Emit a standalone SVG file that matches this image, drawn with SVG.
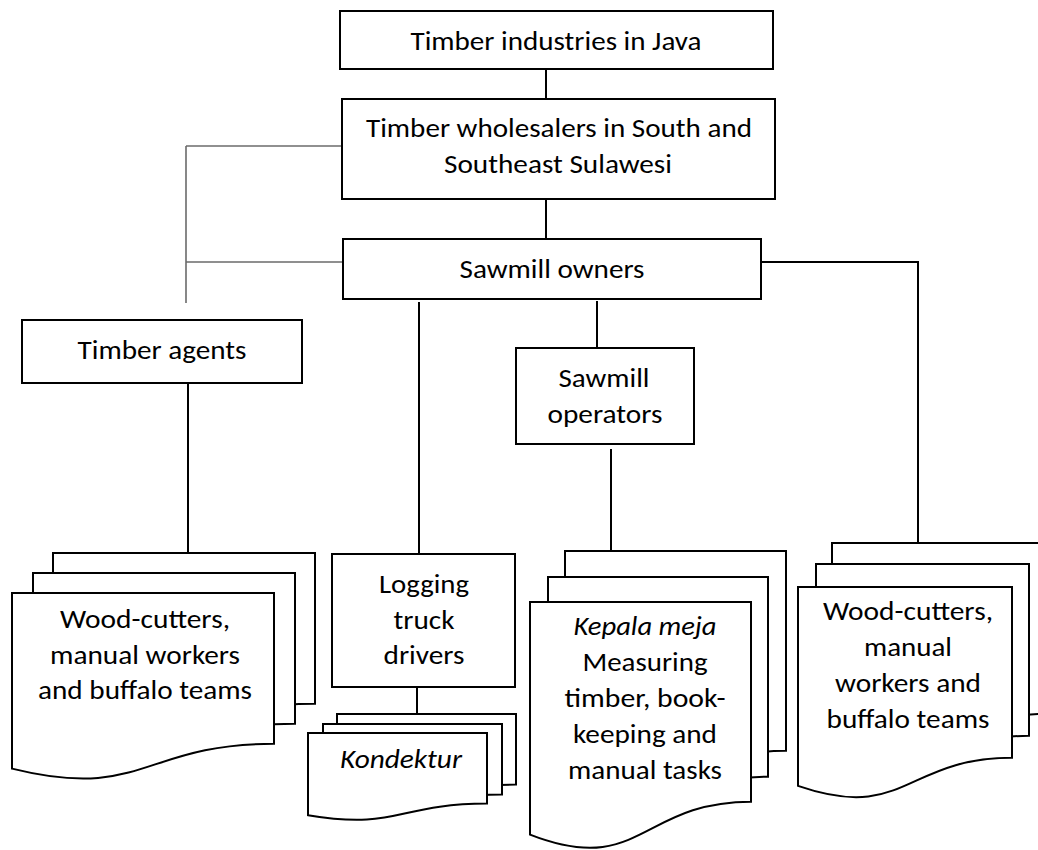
<svg xmlns="http://www.w3.org/2000/svg" width="1038" height="850" viewBox="0 0 1038 850">
  <style>
    .box { fill: #fff; stroke: #000; stroke-width: 2; }
    .doc { fill: #fff; stroke: #000; stroke-width: 2; stroke-linejoin: miter; }
    .wire { fill: none; stroke: #000; stroke-width: 2; }
    .hair { fill: none; stroke: #222; stroke-width: 1.2; }
    .grey { fill: none; stroke: #6a6a6a; stroke-width: 1.6; }
    text { font-family: Carlito, Calibri, Lato, "Open Sans", sans-serif; font-size: 26px; fill: #000; text-anchor: middle; }
    .it { font-style: italic; }
  </style>

  <rect width="1038" height="850" fill="#fff"/>

  <!-- connectors -->
  <g id="connectors">
    <line class="wire" x1="546" y1="69" x2="546" y2="99"/>
    <line class="wire" x1="546" y1="199" x2="546" y2="239"/>
    <polyline class="hair" points="343,146 186,146"/>
    <polyline class="grey" points="186,146 186,303"/>
    <polyline class="grey" points="186,262 343,262"/>
    <line class="wire" x1="188" y1="365" x2="188" y2="553"/>
    <line class="wire" x1="419" y1="302" x2="419" y2="554"/>
    <line class="wire" x1="597" y1="301" x2="597" y2="348"/>
    <line class="wire" x1="611" y1="449" x2="611" y2="553"/>
    <polyline class="wire" points="761,262 918,262 918,543"/>
    <line class="wire" x1="417" y1="687" x2="417" y2="714"/>
  </g>

  <g id="timber-industries-java">
    <rect class="box" x="340" y="11" width="433" height="58"/>
    <text x="556" y="50" textLength="291" lengthAdjust="spacingAndGlyphs">Timber industries in Java</text>
  </g>

  <g id="timber-wholesalers">
    <rect class="box" x="342" y="99" width="433" height="100"/>
    <text x="559" y="137" textLength="386" lengthAdjust="spacingAndGlyphs">Timber wholesalers in South and</text>
    <text x="558" y="173" textLength="228" lengthAdjust="spacingAndGlyphs">Southeast Sulawesi</text>
  </g>

  <g id="sawmill-owners">
    <rect class="box" x="343" y="239" width="418" height="60"/>
    <text x="552" y="278" textLength="185" lengthAdjust="spacingAndGlyphs">Sawmill owners</text>
  </g>

  <g id="timber-agents">
    <rect class="box" x="22" y="320" width="280" height="63"/>
    <text x="162" y="359" textLength="169" lengthAdjust="spacingAndGlyphs">Timber agents</text>
  </g>

  <g id="sawmill-operators">
    <rect class="box" x="516" y="348" width="178" height="96"/>
    <text x="604" y="387" textLength="91" lengthAdjust="spacingAndGlyphs">Sawmill</text>
    <text x="605" y="423" textLength="115" lengthAdjust="spacingAndGlyphs">operators</text>
  </g>

  <g id="logging-truck-drivers">
    <rect class="box" x="332" y="554" width="183" height="133"/>
    <text x="424" y="593" textLength="90" lengthAdjust="spacingAndGlyphs">Logging</text>
    <text x="424" y="629" textLength="61" lengthAdjust="spacingAndGlyphs">truck</text>
    <text x="424" y="664" textLength="81" lengthAdjust="spacingAndGlyphs">drivers</text>
  </g>

  <!-- stacked document shapes -->
  <g id="agent-workers">
    <path class="doc" d="M53,553 H315 V703.8 C184,703.8 184,761.1 53,728.6 Z"/>
    <path class="doc" d="M33,573 H295 V723.8 C164,723.8 164,781.1 33,748.6 Z"/>
    <path class="doc" d="M12,593 H274 V743.8 C143,743.8 143,801.1 12,768.6 Z"/>
    <text x="145" y="628" textLength="170" lengthAdjust="spacingAndGlyphs">Wood-cutters,</text>
    <text x="145" y="663.5" textLength="190" lengthAdjust="spacingAndGlyphs">manual workers</text>
    <text x="145" y="699" textLength="214" lengthAdjust="spacingAndGlyphs">and buffalo teams</text>
  </g>

  <g id="kondektur">
    <path class="doc" d="M337,714 H516 V784.6 C426.5,784.6 426.5,811.4 337,796.2 Z"/>
    <path class="doc" d="M323,724 H502 V794.6 C412.5,794.6 412.5,821.4 323,806.2 Z"/>
    <path class="doc" d="M308,733 H487 V803.6 C397.5,803.6 397.5,830.4 308,815.2 Z"/>
    <text class="it" x="401" y="768" textLength="122" lengthAdjust="spacingAndGlyphs">Kondektur</text>
  </g>

  <g id="kepala-meja">
    <path class="doc" d="M565,551 H786 V750.7 C675.5,750.7 675.5,826.6 565,783.6 Z"/>
    <path class="doc" d="M548,577 H768 V776.7 C658,776.7 658,852.6 548,809.6 Z"/>
    <path class="doc" d="M530,602 H751 V801.7 C640.5,801.7 640.5,877.6 530,834.6 Z"/>
    <text class="it" x="645" y="635" textLength="143" lengthAdjust="spacingAndGlyphs">Kepala meja</text>
    <text x="645" y="671" textLength="125" lengthAdjust="spacingAndGlyphs">Measuring</text>
    <text x="645" y="707" textLength="161" lengthAdjust="spacingAndGlyphs">timber, book-</text>
    <text x="645" y="743" textLength="144" lengthAdjust="spacingAndGlyphs">keeping and</text>
    <text x="645" y="779" textLength="154" lengthAdjust="spacingAndGlyphs">manual tasks</text>
  </g>

  <g id="owner-workers">
    <path class="doc" d="M832,543 H1046 V713.8 C939,713.8 939,778.8 832,741.9 Z"/>
    <path class="doc" d="M816,564 H1029 V735.8 C922.5,735.8 922.5,799.8 816,762.9 Z"/>
    <path class="doc" d="M798,587 H1012 V757.8 C905,757.8 905,822.8 798,785.9 Z"/>
    <text x="908" y="620" textLength="170" lengthAdjust="spacingAndGlyphs">Wood-cutters,</text>
    <text x="908" y="656" textLength="88" lengthAdjust="spacingAndGlyphs">manual</text>
    <text x="908" y="692" textLength="146" lengthAdjust="spacingAndGlyphs">workers and</text>
    <text x="908" y="728" textLength="163" lengthAdjust="spacingAndGlyphs">buffalo teams</text>
  </g>
</svg>
